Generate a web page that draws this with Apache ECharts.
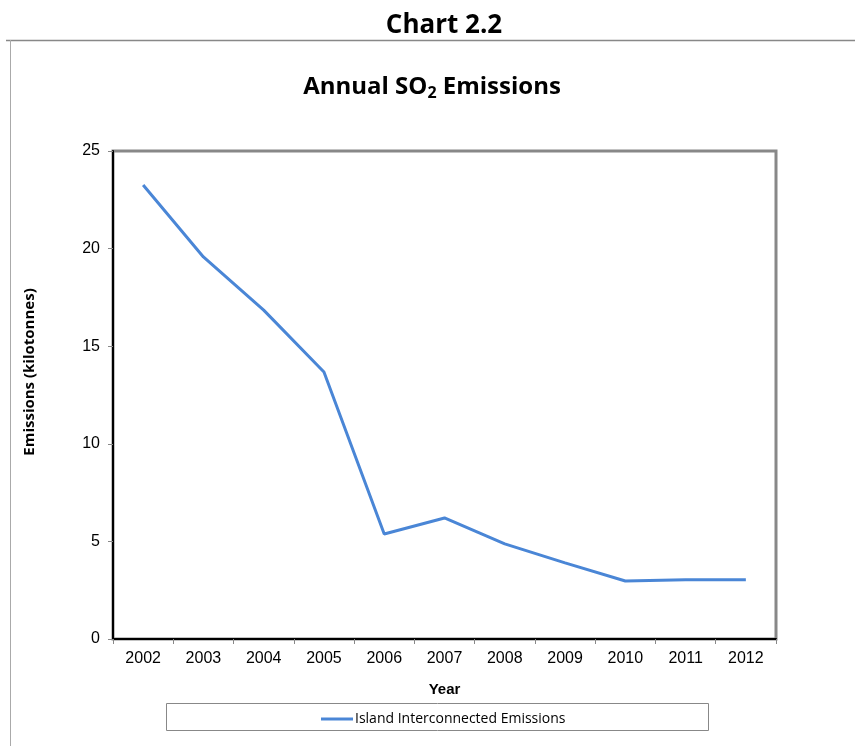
<!DOCTYPE html>
<html>
<head>
<meta charset="utf-8">
<script src="https://cdn.jsdelivr.net/npm/echarts@6/dist/echarts.min.js"></script>
<style>
  html, body { margin: 0; padding: 0; background: #fff; }
  #chart { width: 855px; height: 746px; }
</style>
</head>
<body>
<div id="chart"></div>
<script>
const years = ['2002', '2003', '2004', '2005', '2006', '2007', '2008', '2009', '2010', '2011', '2012']
const emissions = [23.26, 19.57, 16.85, 13.68, 5.38, 6.2, 4.87, 3.9, 2.97, 3.03, 3.04]
const seriesName = 'Island Interconnected Emissions'

const chart = echarts.init(document.getElementById('chart'))
const titleFont = '"Open Sans", "Noto Sans", sans-serif'
const axisFont = '"Liberation Sans", Arial, sans-serif'

chart.setOption({
  animation: false,
  backgroundColor: '#fff',
  title: [
    {
      text: 'Chart 2.2',
      left: 439, top: 8, textAlign: 'center',
      textStyle: { fontFamily: titleFont, fontSize: 26, fontWeight: 'bold', color: '#000' }
    },
    {
      // 标题带下标
      text: '{t|Annual SO}{s|2}{t| Emissions}',
      left: 427, top: 68, textAlign: 'center',
      textStyle: {
        rich: {
          t: { fontFamily: titleFont, fontSize: 24, fontWeight: 'bold', color: '#000' },
          s: { fontFamily: titleFont, fontSize: 16, fontWeight: 'bold', color: '#000', padding: [12, 0, 0, 0] }
        }
      }
    }
  ],
  graphic: [
    { type: 'line', shape: { x1: 6, y1: 40.5, x2: 855, y2: 40.5 }, style: { stroke: '#888', lineWidth: 1.5 } },
    { type: 'line', shape: { x1: 10.5, y1: 40, x2: 10.5, y2: 746 }, style: { stroke: '#aaa', lineWidth: 1 } },
    { type: 'rect', shape: { x: 166.5, y: 703.5, width: 542, height: 27 }, style: { fill: 'none', stroke: '#888', lineWidth: 1 } },
    {
      type: 'text', x: 30, y: 372, rotation: Math.PI / 2,
      style: {
        text: 'Emissions (kilotonnes)', align: 'center', verticalAlign: 'middle',
        fontFamily: titleFont, fontSize: 15, fontWeight: 'bold', fill: '#000'
      }
    }
  ],
  legend: {
    left: 316, top: 707,
    itemWidth: 32, itemHeight: 3, itemGap: 0,
    textStyle: { fontFamily: titleFont, fontSize: 14, color: '#000', padding: [0, 0, 0, -3] },
    data: [{ name: seriesName, icon: 'rect' }]
  },
  grid: {
    left: 113, right: 79, top: 151, bottom: 107,
    show: true, borderColor: '#888', borderWidth: 3
  },
  xAxis: {
    type: 'category',
    data: years,
    name: 'Year',
    nameLocation: 'middle',
    nameGap: 43,
    nameTextStyle: { fontFamily: axisFont, fontSize: 15, fontWeight: 'bold', color: '#000' },
    axisLine: { lineStyle: { color: '#000', width: 2 } },
    axisTick: { show: true, length: 5, lineStyle: { color: '#888' } },
    axisLabel: { fontFamily: axisFont, fontSize: 16, color: '#000', margin: 12 },
    splitLine: { show: false }
  },
  yAxis: {
    type: 'value',
    min: 0, max: 25, interval: 5,
    axisLine: { show: true, lineStyle: { color: '#000', width: 2 } },
    axisTick: { show: true, length: 5, lineStyle: { color: '#888' } },
    axisLabel: { fontFamily: axisFont, fontSize: 16, color: '#000', margin: 13 },
    splitLine: { show: false }
  },
  series: [
    {
      name: seriesName,
      type: 'line',
      data: emissions,
      showSymbol: false,
      symbol: 'none',
      itemStyle: { color: '#4a86d6' },
      lineStyle: { color: '#4a86d6', width: 3 }
    }
  ]
})
</script>
</body>
</html>
